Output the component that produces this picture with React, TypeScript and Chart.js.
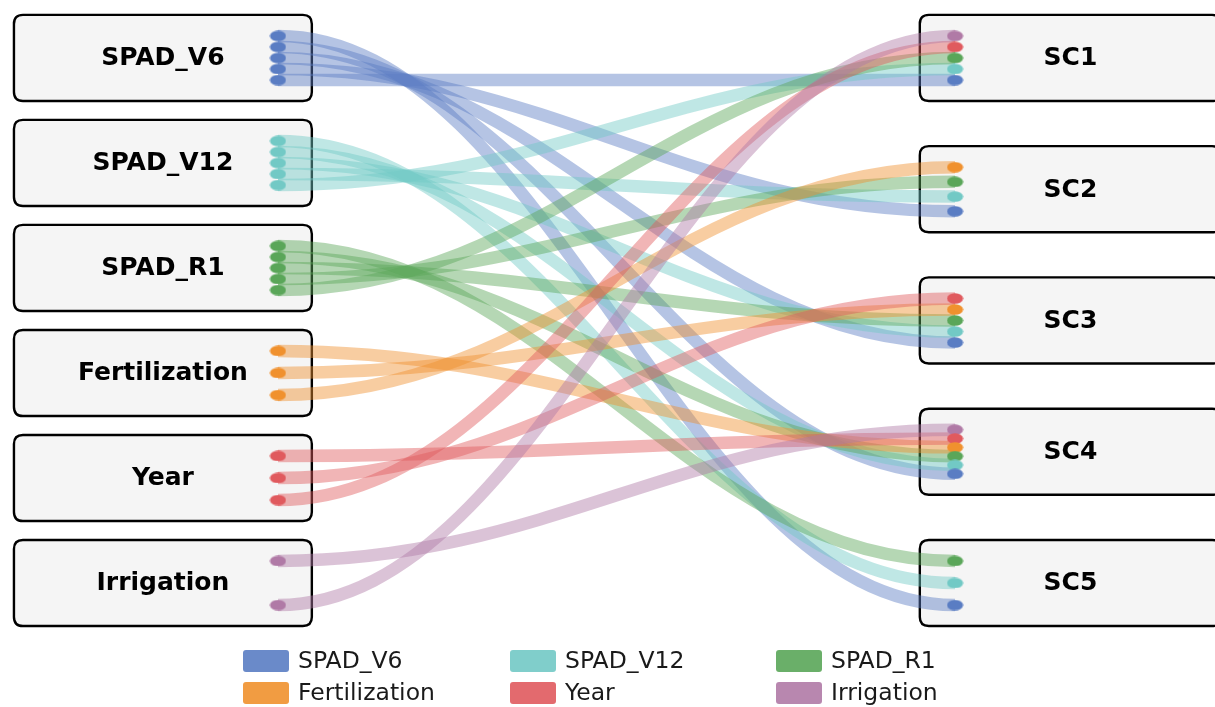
import React, { useEffect, useRef } from "react";
import { Chart, registerables } from "chart.js";

Chart.register(...registerables);

// ---- data ----
const sources = ["SPAD_V6", "SPAD_V12", "SPAD_R1", "Fertilization", "Year", "Irrigation"];
const sourceColors = ["#5a7dc3", "#72c9c5", "#5aa659", "#f0912e", "#e05a5e", "#b07aa6"];
const targets = ["SC1", "SC2", "SC3", "SC4", "SC5"];

const linksSPAD_V6 = ["SC1", "SC2", "SC3", "SC4", "SC5"];
const linksSPAD_V12 = ["SC1", "SC2", "SC3", "SC4", "SC5"];
const linksSPAD_R1 = ["SC1", "SC2", "SC3", "SC4", "SC5"];
const linksFertilization = ["SC2", "SC3", "SC4"];
const linksYear = ["SC1", "SC3", "SC4"];
const linksIrrigation = ["SC1", "SC4"];

const sourceLinks = [linksSPAD_V6, linksSPAD_V12, linksSPAD_R1, linksFertilization, linksYear, linksIrrigation];

// ---- layout constants (data units) ----
const LEFT_X = 0;
const RIGHT_X = 1;
const DOT_SPAN = 0.42;
const BOX_HALF_H = 0.41;
const LEFT_BOX = [-0.39, 0.05];
const RIGHT_BOX = [0.948, 1.393];
const BAND_ALPHA = 0.45;
const BAND_WIDTH = 12.5;
const CTRL = 0.4;

const rightScale = (sources.length - 1) / (targets.length - 1);

function spread(center: number, n: number, k: number) {
  if (n <= 1) return center;
  return center - DOT_SPAN / 2 + (k * DOT_SPAN) / (n - 1);
}

type Link = { s: number; t: number; y0: number; y1: number };

function buildLinks(): Link[] {
  const links: Link[] = [];
  const incoming: number[][] = targets.map(() => []);
  sourceLinks.forEach((tl, s) => {
    tl.forEach((name) => incoming[targets.indexOf(name)].push(s));
  });
  sourceLinks.forEach((tl, s) => {
    const tIdx = tl.map((n) => targets.indexOf(n)).sort((a, b) => a - b);
    const n = tIdx.length;
    tIdx.forEach((t, idx) => {
      const kLeft = n - 1 - idx;
      const y0 = spread(s, n, kLeft);
      const inc = incoming[t];
      const m = inc.length;
      const kRight = m - 1 - inc.indexOf(s);
      const y1 = spread(t * rightScale, m, kRight);
      links.push({ s, t, y0, y1 });
    });
  });
  return links;
}

function ellipseImage(color: string) {
  const c = document.createElement("canvas");
  c.width = 17;
  c.height = 11;
  const g = c.getContext("2d")!;
  g.fillStyle = color;
  g.beginPath();
  g.ellipse(8.5, 5.5, 8, 5.3, 0, 0, Math.PI * 2);
  g.fill();
  return c;
}

function roundRect(ctx: CanvasRenderingContext2D, x: number, y: number, w: number, h: number, r: number) {
  ctx.beginPath();
  ctx.moveTo(x + r, y);
  ctx.lineTo(x + w - r, y);
  ctx.quadraticCurveTo(x + w, y, x + w, y + r);
  ctx.lineTo(x + w, y + h - r);
  ctx.quadraticCurveTo(x + w, y + h, x + w - r, y + h);
  ctx.lineTo(x + r, y + h);
  ctx.quadraticCurveTo(x, y + h, x, y + h - r);
  ctx.lineTo(x, y + r);
  ctx.quadraticCurveTo(x, y, x + r, y);
  ctx.closePath();
}

export default function App() {
  const ref = useRef<HTMLCanvasElement>(null);

  useEffect(() => {
    document.body.style.margin = "0";
    document.body.style.overflow = "hidden";
    const links = buildLinks();

    const datasets = sources.map((name, s) => {
      const pts: { x: number; y: number }[] = [];
      links.filter((l) => l.s === s).forEach((l) => {
        pts.push({ x: LEFT_X, y: l.y0 });
        pts.push({ x: RIGHT_X, y: l.y1 });
      });
      return {
        label: name,
        data: pts,
        backgroundColor: sourceColors[s],
        borderColor: sourceColors[s],
        pointStyle: ellipseImage(sourceColors[s]) as any,
        pointRadius: 5,
        pointHoverRadius: 5,
        showLine: false,
        clip: false,
      };
    });

    const nodePlugin = {
      id: "nodes",
      beforeDatasetsDraw(chart: any) {
        const ctx: CanvasRenderingContext2D = chart.ctx;
        const xs = chart.scales.x;
        const ys = chart.scales.y;
        ctx.save();
        const drawBox = (x0: number, x1: number, cy: number) => {
          const px0 = xs.getPixelForValue(x0);
          const px1 = xs.getPixelForValue(x1);
          const py0 = ys.getPixelForValue(cy - BOX_HALF_H);
          const py1 = ys.getPixelForValue(cy + BOX_HALF_H);
          roundRect(ctx, px0, py0, px1 - px0, py1 - py0, 9);
          ctx.fillStyle = "#f5f5f5";
          ctx.fill();
          ctx.lineWidth = 2.4;
          ctx.strokeStyle = "#000000";
          ctx.stroke();
        };
        sources.forEach((_, i) => drawBox(LEFT_BOX[0], LEFT_BOX[1], i));
        targets.forEach((_, j) => drawBox(RIGHT_BOX[0], RIGHT_BOX[1], j * rightScale));

        ctx.globalAlpha = BAND_ALPHA;
        ctx.lineWidth = BAND_WIDTH;
        ctx.lineCap = "butt";
        links.forEach((l) => {
          const x0 = xs.getPixelForValue(LEFT_X);
          const x1 = xs.getPixelForValue(RIGHT_X);
          const y0 = ys.getPixelForValue(l.y0);
          const y1 = ys.getPixelForValue(l.y1);
          const dx = x1 - x0;
          ctx.strokeStyle = sourceColors[l.s];
          ctx.beginPath();
          ctx.moveTo(x0, y0);
          ctx.bezierCurveTo(x0 + CTRL * dx, y0, x1 - CTRL * dx, y1, x1, y1);
          ctx.stroke();
        });
        ctx.globalAlpha = 1;

        ctx.fillStyle = "#000000";
        ctx.font = "bold 25px 'DejaVu Sans'";
        ctx.textAlign = "center";
        ctx.textBaseline = "middle";
        sources.forEach((name, i) => {
          const cx = xs.getPixelForValue((LEFT_BOX[0] + LEFT_BOX[1]) / 2);
          ctx.fillText(name, cx, ys.getPixelForValue(i) + 1);
        });
        targets.forEach((name, j) => {
          const cx = xs.getPixelForValue((RIGHT_BOX[0] + RIGHT_BOX[1]) / 2);
          ctx.fillText(name, cx, ys.getPixelForValue(j * rightScale) + 1);
        });
        ctx.restore();
      },
      afterDraw(chart: any) {
        const ctx: CanvasRenderingContext2D = chart.ctx;
        ctx.save();
        const colX = [243, 510, 776];
        const rowY = [661, 693];
        ctx.font = "23.5px 'DejaVu Sans'";
        ctx.textAlign = "left";
        ctx.textBaseline = "middle";
        sources.forEach((name, i) => {
          const x = colX[i % 3];
          const y = rowY[Math.floor(i / 3)];
          ctx.globalAlpha = 0.9;
          roundRect(ctx, x, y - 11, 46, 22, 3);
          ctx.fillStyle = sourceColors[i];
          ctx.fill();
          ctx.globalAlpha = 1;
          ctx.fillStyle = "#1a1a1a";
          ctx.fillText(name, x + 55, y + 1);
        });
        ctx.restore();
      },
    };

    const chart = new Chart(ref.current!, {
      type: "scatter",
      data: { datasets: datasets as any },
      options: {
        animation: false,
        responsive: true,
        maintainAspectRatio: false,
        layout: { padding: 0, autoPadding: false },
        plugins: { legend: { display: false }, tooltip: { enabled: false } },
        scales: {
          x: { type: "linear", min: -0.4106, max: 1.384, display: false },
          y: { type: "linear", min: -0.552, max: 6.181, reverse: true, display: false },
        },
      },
      plugins: [nodePlugin],
    });
    return () => chart.destroy();
  }, []);

  return (
    <div style={{ position: "fixed", left: 0, top: 0, width: 1215, height: 707, overflow: "hidden" }}>
      <canvas ref={ref} style={{ display: "block" }} />
    </div>
  );
}
